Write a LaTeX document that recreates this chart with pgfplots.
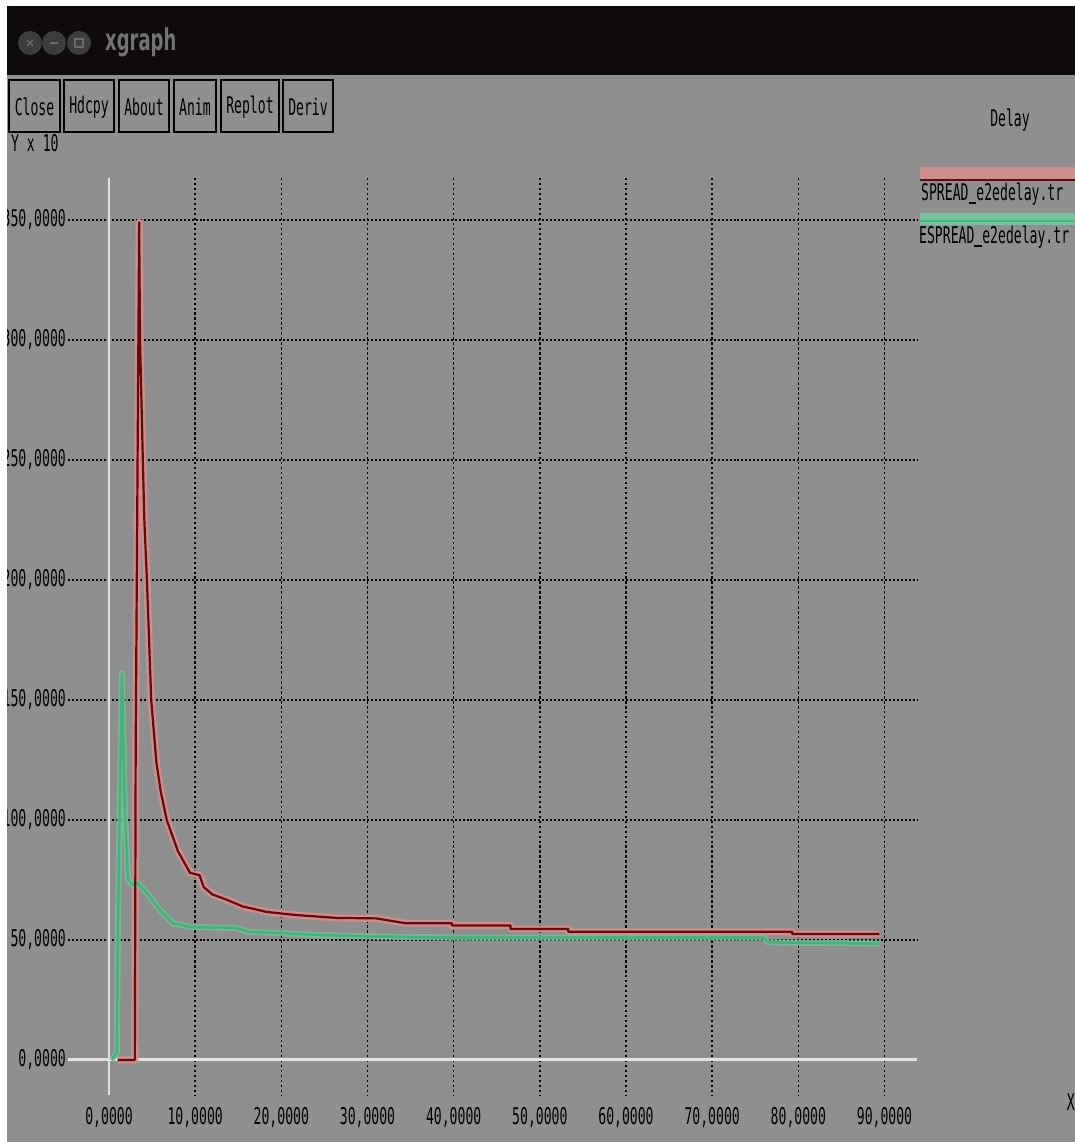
\documentclass[border=0pt]{standalone}
\usepackage{fontspec}
\usepackage{pgfplots}
\usepackage{pgfplotstable}
\pgfplotsset{compat=1.18}
\newfontfamily\xmono[FakeStretch=0.57]{DejaVu Sans Mono}
\newfontfamily\xtitle[FakeStretch=0.6]{DejaVu Sans Bold}
\newcommand\xf{\xmono\fontsize{23bp}{26bp}\selectfont}
\newcommand\us{\rule[-3.5bp]{7.9bp}{1.7bp}}
\definecolor{bg}{HTML}{8F8F8F}
\definecolor{barblack}{HTML}{0E0B0A}
\definecolor{halored}{HTML}{CF8C8C}
\definecolor{corered}{HTML}{6A0808}
\definecolor{greenline}{HTML}{3DB878}
\definecolor{halogreen}{HTML}{76C29E}
\definecolor{axwhite}{HTML}{E2E2E2}

\pgfplotstableread{
x y
1.0 0
3.0 0
3.1 132
3.5 349
3.6 300
3.9 254
4.1 225
4.4 200
4.9 150
5.5 124
6.0 112
6.7 100
8.0 87
9.4 78
10.5 77
11.0 72
12.0 69
13.5 67
15.5 64
18.3 61.7
21.7 60.4
26.4 59.2
31.0 59
34.4 57
39.8 57
39.8 56
46.6 56
46.6 54.6
53.3 54.6
53.3 53.4
79.3 53.4
79.3 52.5
89.4 52.5
}\spread

\pgfplotstableread{
x y
0.3 0
0.9 3
1.05 60
1.5 161
1.85 103
2.2 75
2.8 73
3.2 74
4.4 69.6
5.9 62.5
7.4 57
9.4 55.4
14.8 55
16.3 53.3
19.3 53
24.7 52
30 51.5
40 51
60 51
76 51
76.5 49
89.4 48.5
}\espread

\begin{document}
\begin{tikzpicture}
\useasboundingbox (0,0) rectangle (1075bp,1142bp);
\clip (0,0) rectangle (1075bp,1142bp);
\begin{scope}[shift={(0bp,1142bp)},x=1bp,y=-1bp]
  % background
  \fill[bg] (0,0) rectangle (1075,1142);
  % title bar
  \fill[barblack] (0,0) rectangle (1075,75);
  \fill[black!76] (30,43) circle (12);
  \fill[black!76] (54,43) circle (12);
  \fill[black!76] (79,43) circle (12);
  \draw[black!58,line width=1.3] (27,40) -- (33,46) (27,46) -- (33,40);
  \draw[black!58,line width=1.3] (50,43) -- (58,43);
  \draw[black!58,line width=1.3] (75,39) rectangle (83,47);
  \node[anchor=west,inner sep=0pt,text=black!55] at (105,42) {\xtitle\fontsize{30bp}{34bp}\selectfont xgraph};
  % Y label
  \node[anchor=west,inner sep=0pt] at (11,143) {\xf Y x 10};
  \node[anchor=west,inner sep=0pt] at (62,122) {\xmono\fontsize{18bp}{20bp}\selectfont -3};
  % buttons
  \foreach \a/\b/\t in {9/60/Close,64/114/Hdcpy,119/169/About,174/216/Anim,221/279/Replot,283/333/Deriv}{
    \filldraw[fill=bg,draw=black,line width=2] (\a,80) rectangle (\b,132);
    \node[inner sep=0pt] at ({(\a+\b)/2},107) {\xf \t};
  }
  % title
  \node[inner sep=0pt] at (1010,120) {\xf Delay};
  % grid
  \foreach \i in {1,...,9}{
    \draw[black,line width=1.5,dash pattern=on 2.5 off 2.5] ({109+86.167*\i},178) -- ({109+86.167*\i},1095);
  }
  \foreach \j in {1,...,7}{
    \draw[black,line width=2,dash pattern=on 2 off 2] (68,{1060-120*\j}) -- (917,{1060-120*\j});
  }
  \draw[axwhite,line width=3] (68,1060) -- (917,1060);
  \draw[axwhite,line width=2.5] (109,178) -- (109,1095);
  % legend
  \fill[halored] (920,167) rectangle (1075,179);
  \draw[corered,line width=2.5] (920,180) -- (1075,180);
  \node[anchor=west,inner sep=0pt] at (921,194) {\xf SPREAD\us e2edelay.tr};
  \fill[halogreen] (920,213) rectangle (1075,225);
  \draw[greenline,line width=2.5] (920,221) -- (1075,221);
  \node[anchor=west,inner sep=0pt] at (919,237) {\xf ESPREAD\us e2edelay.tr};
  % X label
  \node[anchor=east,inner sep=0pt] at (1075,1102) {\xf X};
\end{scope}
\begin{axis}[
  scale only axis,
  width=1075bp, height=1142bp,
  xmin=-12.650, xmax=112.108,
  ymin=-34.1667, ymax=441.6667,
  axis line style={draw=none},
  major tick length=0pt,
  tick style={draw=none},
  xtick={0,10,...,90},
  xticklabels={{0,0000},{10,0000},{20,0000},{30,0000},{40,0000},{50,0000},{60,0000},{70,0000},{80,0000},{90,0000}},
  ytick={0,50,...,350},
  yticklabels={{0,0000},{50,0000},{100,0000},{150,0000},{200,0000},{250,0000},{300,0000},{350,0000}},
  xticklabel style={font=\xf, anchor=center, inner sep=0pt, yshift=24bp},
  yticklabel style={font=\xf, anchor=east, inner sep=0pt, xshift=66bp},
]
\addplot[halored, line width=7bp, line join=round] table[x=x,y=y] {\spread};
\addplot[halogreen, line width=6bp, opacity=0.75, line join=round] table[x=x,y=y] {\espread};
\addplot[greenline, line width=2.5bp, line join=round] table[x=x,y=y] {\espread};
\addplot[corered, line width=2.2bp, line join=round] table[x=x,y=y] {\spread};
\end{axis}
\begin{scope}[shift={(0bp,1142bp)},x=1bp,y=-1bp]
  \fill[white] (0,0) rectangle (7,1142);
  \fill[white] (0,0) rectangle (1075,6);
\end{scope}
\end{tikzpicture}
\end{document}
